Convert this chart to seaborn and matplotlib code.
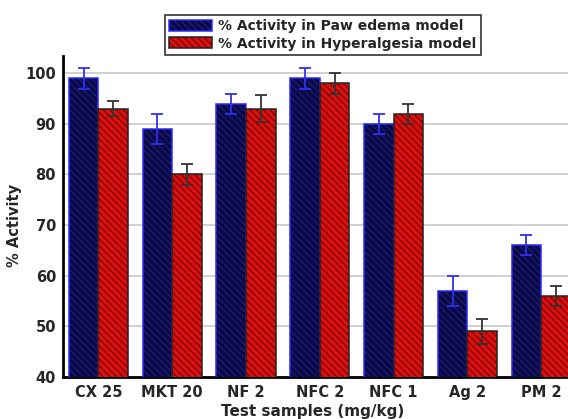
import matplotlib
matplotlib.use("Agg")
import matplotlib.pyplot as plt
from matplotlib.colors import to_rgba
from matplotlib.patches import Patch
import seaborn as sns
import pandas as pd

categories = ["CX 25", "MKT 20", "NF 2", "NFC 2", "NFC 1", "Ag 2", "PM 2"]
series_names = ["% Activity in Paw edema model", "% Activity in Hyperalgesia model"]
paw_values = [99, 89, 94, 99, 90, 57, 66]
paw_errors = [2, 3, 2, 2, 2, 3, 2]
hyper_values = [93, 80, 93, 98, 92, 49, 56]
hyper_errors = [1.5, 2, 2.7, 2, 2, 2.5, 2]
y_ticks = [40, 50, 60, 70, 80, 90, 100]

df = pd.DataFrame({
    "cat": categories * 2,
    "val": paw_values + hyper_values,
    "series": [series_names[0]] * 7 + [series_names[1]] * 7,
})

sns.set_style("white")
plt.rcParams["font.family"] = ["DejaVu Sans"]
plt.rcParams["font.weight"] = "bold"
plt.rcParams["hatch.linewidth"] = 0.9

fig = plt.figure(figsize=(5.68, 4.19), dpi=100)
ax = fig.add_axes([0.111, 0.101, 0.889, 0.765])

face = ["#08084a", "#dd1010"]
hatchc = ["#20206a", "#7a0000"]
edge = ["#2a2aff", "#222222"]
ecol = ["#3030ee", "#333333"]

sns.barplot(data=df, x="cat", y="val", hue="series", order=categories,
            hue_order=series_names, palette=face, errorbar=None,
            width=0.8, ax=ax, legend=False, zorder=3)

errs = [paw_errors, hyper_errors]
vals = [paw_values, hyper_values]
bar_containers = list(ax.containers)
for i, cont in enumerate(bar_containers):
    xs = []
    for p in cont:
        p.set_facecolor(face[i])
        p.set_hatch("\\\\\\\\\\")
        p.set_edgecolor(edge[i])
        p.set_linewidth(1.1)
        p._hatch_color = to_rgba(hatchc[i])
        xs.append(p.get_x() + p.get_width() / 2)
    ax.errorbar(xs, vals[i], yerr=errs[i], fmt="none", ecolor=ecol[i],
                elinewidth=1.3, capsize=4.5, capthick=1.3, zorder=4)

ax.set_xlim(-0.48, 6.365)
ax.set_ylim(40, 103.4)
ax.set_yticks(y_ticks)
ax.yaxis.grid(True, color="#c8c8c8", linewidth=1.2, zorder=0)
ax.set_axisbelow(True)
for s in ["top", "right"]:
    ax.spines[s].set_visible(False)
for s in ["left", "bottom"]:
    ax.spines[s].set_color("black")
    ax.spines[s].set_linewidth(2)
ax.tick_params(axis="both", length=0, labelsize=10.5)
ax.tick_params(axis="y", pad=5)
ax.tick_params(axis="x", pad=6)
for t in ax.get_xticklabels() + ax.get_yticklabels():
    t.set_fontweight("bold")
ax.set_xlabel("Test samples (mg/kg)", fontsize=11, fontweight="bold")
ax.set_ylabel("% Activity", fontsize=10.5, fontweight="bold")
ax.xaxis.set_label_coords(0.495, -0.085)
ax.yaxis.set_label_coords(-0.081, 0.473)

handles = []
for i in range(2):
    h = Patch(facecolor=face[i], edgecolor=edge[i], hatch="\\\\\\\\\\", linewidth=1.1)
    h._hatch_color = to_rgba(hatchc[i])
    handles.append(h)
leg = ax.legend(handles=handles, labels=series_names, loc="upper left",
                bbox_to_anchor=(0.29, 0.964), bbox_transform=fig.transFigure,
                borderaxespad=0, fancybox=False, frameon=True, edgecolor="#333333",
                framealpha=1, handlelength=3.1, handleheight=0.85,
                labelspacing=0.25, borderpad=0.3, handletextpad=0.45,
                prop={"size": 10, "weight": "bold"})
leg.get_frame().set_linewidth(1.2)
leg.set_zorder(10)

fig.savefig("out.png", dpi=100)
